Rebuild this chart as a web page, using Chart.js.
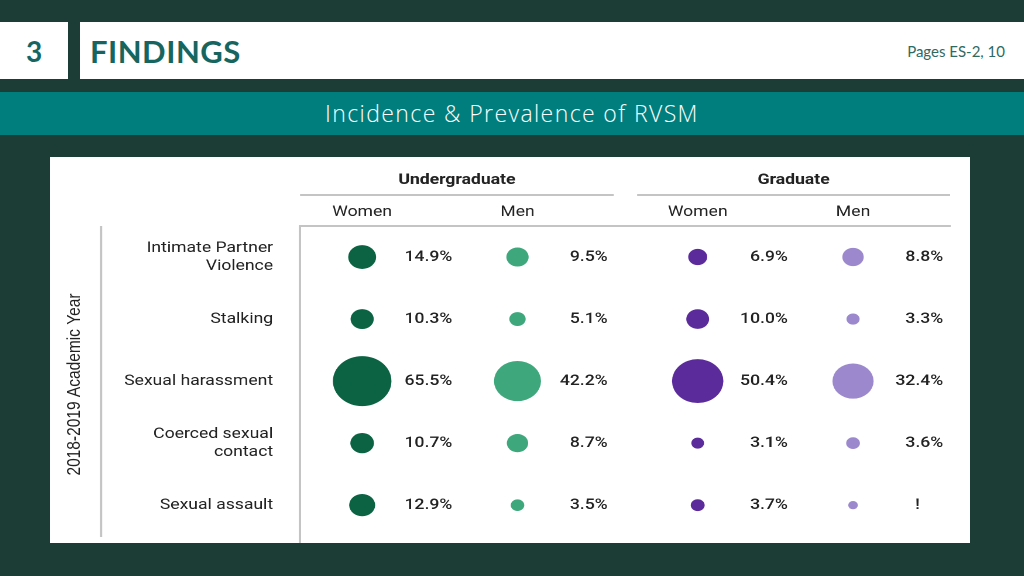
<!DOCTYPE html>
<html>
<head>
<meta charset="utf-8">
<script src="https://cdn.jsdelivr.net/npm/chart.js@4/dist/chart.umd.min.js"></script>
<style>
    body { margin: 0; width: 1024px; height: 576px; background: #1b3d35; position: relative; overflow: hidden; }
    #num { position: absolute; left: 0; top: 22px; width: 68px; height: 57px; background: #fff; color: #17655f;
           font: bold 28px Lato, sans-serif; display: flex; align-items: center; justify-content: center; }
    #head { position: absolute; left: 80px; top: 22px; width: 944px; height: 57px; background: #fff; }
    #head h1 { position: absolute; left: 10px; top: 10px; margin: 0; font: bold 31px Lato, sans-serif; color: #17655f; letter-spacing: 0.5px; }
    #head span { position: absolute; right: 19px; top: 20px; font: 15px Lato, sans-serif; color: #2d6a64; }
    #band { position: absolute; left: 0; top: 92px; width: 1024px; height: 43px; background: #007e7e; color: #fff;
            text-align: center; font: 300 23px "Open Sans", sans-serif; letter-spacing: 1.4px; line-height: 43px; }
    #panel { position: absolute; left: 50px; top: 157px; width: 920px; height: 386px; background: #fff; overflow: hidden; }
    #wrap { position: absolute; left: 0; top: 0; width: 786px; height: 386px; transform: scaleX(1.1705); transform-origin: 0 0; }
</style>
</head>
<body>
<div id="num">3</div>
<div id="head"><h1>FINDINGS</h1><span>Pages ES-2, 10</span></div>
<div id="band">Incidence &amp; Prevalence of RVSM</div>
<div id="panel"><div id="wrap"><canvas id="chart"></canvas></div></div>

<script>
// data
const rowLabels = [["Intimate Partner", "Violence"], "Stalking", "Sexual harassment", ["Coerced sexual", "contact"], "Sexual assault"];
const groupLabels = ["Undergraduate", "Graduate"];
const genderLabels = ["Women", "Men", "Women", "Men"];
const ugWomen = [14.9, 10.3, 65.5, 10.7, 12.9];
const ugMen = [9.5, 5.1, 42.2, 8.7, 3.5];
const gradWomen = [6.9, 10.0, 50.4, 3.1, 3.7];
const gradMen = [8.8, 3.3, 32.4, 3.6, 1.8];
const gradMenNotes = [null, null, null, null, "!"];
const yAxisTitle = "2018-2019 Academic Year";

// layout
const colPos = [0, 1, 2.16, 3.16];
const groupSpans = [[-0.4, 1.62], [1.77, 3.785]];
const colors = ["#0b6343", "#3ea77b", "#5b2a9b", "#9c88cd"];
const lineColor = "#c4c4c4";
const textColor = "#222";

const series = [
    { values: ugWomen, notes: [] },
    { values: ugMen, notes: [] },
    { values: gradWomen, notes: [] },
    { values: gradMen, notes: gradMenNotes }
];

const datasets = series.map(function(s, i) {
    return {
        data: s.values.map(function(v, row) {
            return { x: colPos[i], y: row, r: 3.09 * Math.sqrt(v), v: v, note: s.notes[row] };
        }),
        backgroundColor: colors[i],
        borderWidth: 0,
        hoverBorderWidth: 0
    };
});

const decor = {
    id: "decor",
    afterDatasetsDraw: function(chart) {
        const ctx = chart.ctx;
        const x = chart.scales.x;
        const area = chart.chartArea;
        ctx.save();

        // value labels next to each bubble
        ctx.font = "500 15px Roboto";
        ctx.fillStyle = textColor;
        ctx.textBaseline = "middle";
        chart.data.datasets.forEach(function(ds, i) {
            chart.getDatasetMeta(i).data.forEach(function(el, j) {
                const p = ds.data[j];
                if (p.note) {
                    ctx.textAlign = "center";
                    ctx.fillText(p.note, el.x + 55, el.y);
                } else {
                    ctx.textAlign = "right";
                    ctx.fillText(p.v.toFixed(1) + "%", el.x + 77, el.y);
                }
            });
        });

        // group headers with their rules
        ctx.font = "bold 15px Roboto";
        ctx.textAlign = "center";
        ctx.strokeStyle = lineColor;
        ctx.lineWidth = 2;
        groupLabels.forEach(function(g, i) {
            const a = x.getPixelForValue(groupSpans[i][0]);
            const b = x.getPixelForValue(groupSpans[i][1]);
            ctx.fillText(g, (a + b) / 2, 23);
            ctx.beginPath();
            ctx.moveTo(a, 38);
            ctx.lineTo(b, 38);
            ctx.stroke();
        });

        // left rule next to the year title
        ctx.beginPath();
        ctx.moveTo(43.6, area.top);
        ctx.lineTo(43.6, 380);
        ctx.stroke();
        ctx.restore();
    }
};

new Chart(document.getElementById("chart"), {
    type: "bubble",
    data: { datasets: datasets },
    plugins: [decor],
    options: {
        responsive: true,
        maintainAspectRatio: false,
        devicePixelRatio: 2,
        animation: false,
        events: [],
        layout: { autoPadding: false, padding: { left: 0, top: 0, right: 17, bottom: 0 } },
        plugins: { legend: { display: false }, tooltip: { enabled: false } },
        scales: {
            x: {
                type: "linear",
                position: "top",
                min: -0.4,
                max: 3.785,
                afterFit: function(s) { s.height = 69; s.paddingLeft = 0; s.paddingRight = 0; },
                afterBuildTicks: function(s) { s.ticks = colPos.map(function(v) { return { value: v }; }); },
                ticks: {
                    autoSkip: false,
                    maxRotation: 0,
                    padding: 5,
                    color: textColor,
                    font: { family: "Roboto", size: 15 },
                    callback: function(v, i) { return genderLabels[i]; }
                },
                grid: { display: false, drawTicks: false },
                border: { color: lineColor, width: 2 }
            },
            y: {
                type: "linear",
                reverse: true,
                min: -0.5,
                max: 4.61,
                afterFit: function(s) { s.width = 213.6; s.paddingTop = 0; s.paddingBottom = 0; },
                afterBuildTicks: function(s) { s.ticks = rowLabels.map(function(l, i) { return { value: i }; }); },
                ticks: {
                    autoSkip: false,
                    padding: 23,
                    color: textColor,
                    font: { family: "Roboto", size: 15 },
                    callback: function(v, i) { return rowLabels[i]; }
                },
                grid: { display: false, drawTicks: false },
                border: { color: lineColor, width: 2 },
                title: {
                    display: true,
                    text: yAxisTitle,
                    color: textColor,
                    font: { family: "Liberation Sans", size: 15.5 },
                    padding: { top: 12, bottom: 0 }
                }
            }
        }
    }
});
</script>
</body>
</html>
